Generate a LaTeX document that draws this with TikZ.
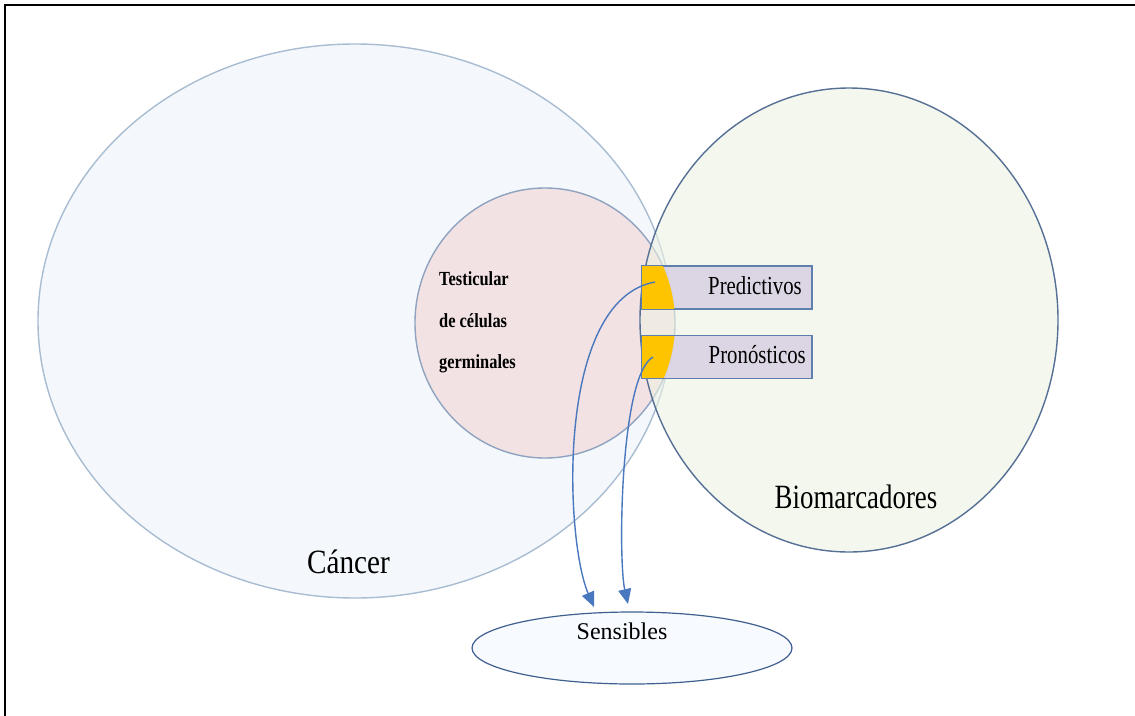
\documentclass[tikz,border=0pt]{standalone}
\usepackage{fontspec}
\setmainfont{Liberation Serif}
\usetikzlibrary{shapes.geometric,arrows.meta,positioning}

\definecolor{cancerfill}{HTML}{F4F8FC}
\definecolor{cancerline}{HTML}{A8BCD2}
\definecolor{testfill}{HTML}{F2E2E3}
\definecolor{testline}{HTML}{8FA3C0}
\definecolor{biofill}{HTML}{EDF2E2}
\definecolor{bioline}{HTML}{556F95}
\definecolor{boxfill}{HTML}{D8D0E2}
\definecolor{boxline}{HTML}{5E80AE}
\definecolor{markyellow}{HTML}{FFC400}
\definecolor{arrowblue}{HTML}{4A78BE}
\definecolor{sensfill}{HTML}{F7FAFE}
\definecolor{sensline}{HTML}{3F5F8F}

\newcommand{\narrowtext}[2]{\scalebox{#1}[1]{#2}}

\begin{document}
\begin{tikzpicture}[x=1pt,y=-1pt,
		set node/.style={ellipse,draw,line width=1.4pt,inner sep=0pt},
		type box/.style={rectangle,draw=boxline,fill=boxfill,fill opacity=0.85,
			line width=1.2pt,minimum width=170pt,minimum height=43pt},
		type text/.style={anchor=base east,inner sep=0pt,font=\fontsize{26}{28}\selectfont},
		germ text/.style={anchor=base west,inner sep=0pt,font=\fontsize{20}{22}\selectfont\bfseries},
		flow/.style={draw=arrowblue,line width=1.4pt,-{Triangle[length=15pt,width=13pt]}}]

		\useasboundingbox (0,0) rectangle (1135,715);
		\draw[line width=2pt,line cap=rect] (5,715) -- (5,5) -- (1135,5);

		\node[set node,draw=cancerline,fill=cancerfill,minimum width=634pt,minimum height=554pt] (cancer) at (355,321) {};
		\node[set node,draw=testline,fill=testfill,minimum width=260pt,minimum height=270pt] (test) at (545,323) {};
		\node[set node,draw=bioline,fill=biofill,fill opacity=0.6,minimum width=418pt,minimum height=464pt] (bio) at (849,320) {};

		\node[anchor=base,inner sep=0pt,font=\fontsize{34}{36}\selectfont] (cancerlabel) at (348.5,573) {\narrowtext{0.86}{Cáncer}};
		\node[anchor=base,inner sep=0pt,font=\fontsize{34}{36}\selectfont] (biolabel) at (856,508) {\narrowtext{0.79}{Biomarcadores}};

		\node[germ text] (germ1) at (439,285) {\narrowtext{0.82}{Testicular}};
		\node[germ text] (germ2) at (439,327) {\narrowtext{0.82}{de células}};
		\node[germ text] (germ3) at (439,368) {\narrowtext{0.82}{germinales}};

		\node[type box] (pred) at (727,287.5) {};
		\node[type box] (prog) [below=25pt of pred] {};

		% yellow part of each box inside the germ cell circle
		\begin{scope}
			\clip (545,323) ellipse [x radius=130,y radius=135];
			\fill[markyellow] ([xshift=1pt,yshift=-1pt]pred.north west) rectangle ([xshift=40pt,yshift=1pt]pred.south west);
			\fill[markyellow] ([xshift=1pt,yshift=-1pt]prog.north west) rectangle ([xshift=40pt,yshift=1pt]prog.south west);
		\end{scope}

		\node[type text] (predlabel) at (802,294) {\narrowtext{0.8}{Predictivos}};
		\node[type text] (proglabel) at (806,363) {\narrowtext{0.8}{Pronósticos}};

		\node[set node,draw=sensline,fill=sensfill,line width=1.2pt,minimum width=320pt,minimum height=72pt] (sens) at (632,648) {};
		\node[anchor=base,inner sep=0pt,font=\fontsize{24}{26}\selectfont] (senslabel) at (622,639) {Sensibles};

		\coordinate (p1) at (655,282);
		\coordinate (p2) at (653,357);
		\coordinate (e1) at (594,607);
		\coordinate (e2) at (628,604);

		\draw[flow] (p1) .. controls (555,300) and (565,540) .. (e1);
		\draw[flow] (p2) .. controls (620,375) and (618,560) .. (e2);
	\end{tikzpicture}
\end{document}
